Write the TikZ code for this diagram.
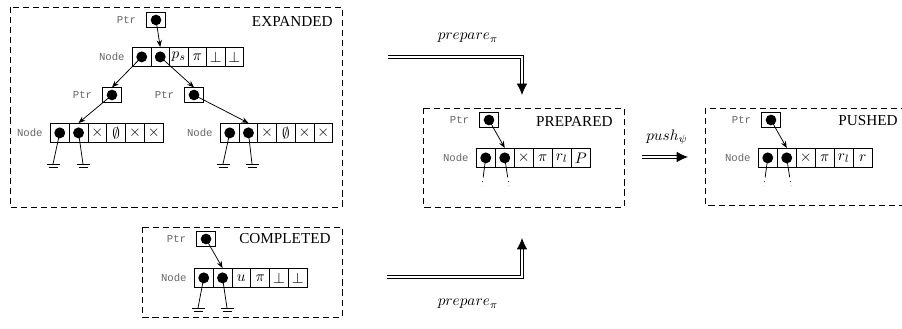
\documentclass[tikz,border=0pt]{standalone}
\usepackage{fontspec}
\setmainfont{Liberation Serif}
\setmonofont{Liberation Mono}
\usetikzlibrary{arrows.meta,positioning}

\tikzset{
  cell/.style={draw, anchor=north west, minimum width=12.3pt, minimum height=12.5pt, inner sep=0pt},
  ptrbox/.style={draw, minimum width=12.2pt, minimum height=9.5pt, inner sep=0pt},
  tag/.style={font=\ttfamily\scriptsize, text=black!60, inner sep=1pt},
  statebox/.style={dash pattern=on 4pt off 2.6pt},
  statename/.style={anchor=east, inner sep=0pt},
  link/.style={-{Stealth[length=4.5pt,width=3.5pt]}},
  tail/.style={dash pattern=on 13pt off 2.5pt on 0.5pt off 2.5pt on 0.5pt off 10pt},
  trans/.style={double, double distance=1.2pt, line width=0.55pt, -{Latex[length=7.5pt,width=7pt]}},
  gnd/.pic={\draw (-6.5,0) -- (6.5,0); \draw (-4.5,3) -- (4.5,3);}
}

\begin{document}
\begin{tikzpicture}[x=0.657pt, y=-0.657pt, line width=0.5pt]
    \clip (0,0) rectangle (902,329);

    % Expanded state
    \draw[statebox] (10,7) rectangle (342,207);
    \node[statename] (expanded) at (333,21) {EXPANDED};
    \node[ptrbox] (tp) at (156,20) {};
    \node[tag, left=5.5pt of tp] (tpl) {Ptr};
    \foreach \t [count=\i] in {{},{},$p_s$,$\pi$,$\bot$,$\bot$}
        \node[cell] (a\i) at ({132+18.5*(\i-1)},47) {\t};
    \node[tag, left=3.6pt of a1] (al) {Node};
    \node[ptrbox] (lp) at (112,95) {};
    \node[tag, left=5.5pt of lp] (lpl) {Ptr};
    \node[ptrbox] (rp) at (194,95) {};
    \node[tag, left=5.5pt of rp] (rpl) {Ptr};
    \foreach \t [count=\i] in {{},{},$\times$,$\emptyset$,$\times$,$\times$} {
        \node[cell] (b\i) at ({50+18.8*(\i-1)},123) {\t};
        \node[cell] (c\i) at ({220+18.7*(\i-1)},123) {\t};
    }
    \node[tag, left=3.6pt of b1] (bl) {Node};
    \node[tag, left=3.6pt of c1] (cl) {Node};
    \fill (tp.center) circle (3.5pt) (lp.center) circle (3.5pt) (rp.center) circle (3.5pt);
    \fill (a1.center) circle (3.6pt) (a2.center) circle (3.6pt);
    \fill (b1.center) circle (3.6pt) (b2.center) circle (3.6pt);
    \fill (c1.center) circle (3.6pt) (c2.center) circle (3.6pt);
    \draw[link] (tp.center) -- (a2.north);
    \draw[link] (a1.center) -- (lp.north);
    \draw[link] (a2.center) -- (rp.north);
    \draw[link] (lp.center) -- (b2.north);
    \draw[link] (rp.center) -- (c2.north);
    % grounded children
    \draw (b1.center) -- (53,164) pic {gnd};
    \draw (b2.center) -- (83,164) pic {gnd};
    \draw (c1.center) -- (223,164) pic {gnd};
    \draw (c2.center) -- (252,164) pic {gnd};

    % Completed state
    \draw[statebox] (142,227) rectangle (342,317);
    \node[statename] (completed) at (331,239) {COMPLETED};
    \node[ptrbox] (dp) at (206,239) {};
    \node[tag, left=5.5pt of dp] (dpl) {Ptr};
    \foreach \t [count=\i] in {{},{},$u$,$\pi$,$\bot$,$\bot$}
        \node[cell] (d\i) at ({194+18.8*(\i-1)},268) {\t};
    \node[tag, left=3.6pt of d1] (dl) {Node};
    \fill (dp.center) circle (3.5pt) (d1.center) circle (3.6pt) (d2.center) circle (3.6pt);
    \draw[link] (dp.center) -- (d2.north);
    \draw (d1.center) -- (198,308) pic {gnd};
    \draw (d2.center) -- (227,308) pic {gnd};

    % Prepared state
    \draw[statebox] (423,108) rectangle (624,207);
    \node[statename] (prepared) at (613,121) {PREPARED};
    \node[ptrbox] (pp) at (489,120) {};
    \node[tag, left=5.5pt of pp] (ppl) {Ptr};
    \foreach \t [count=\i] in {{},{},$\times$,$\pi$,$r_l$,$P$}
        \node[cell] (p\i) at ({476+19*(\i-1)},148) {\t};
    \node[tag, left=3.6pt of p1] (pl) {Node};
    \fill (pp.center) circle (3.5pt) (p1.center) circle (3.6pt) (p2.center) circle (3.6pt);
    \draw[link] (pp.center) -- (p2.north);
    \draw[tail] (p1.center) -- (482,186);
    \draw[tail] (p2.center) -- (509,186);

    % Pushed state
    \draw[statebox] (705,108) rectangle (915,205);
    \node[statename] (pushed) at (898,121) {PUSHED};
    \node[ptrbox] (sp) at (771,120) {};
    \node[tag, left=5.5pt of sp] (spl) {Ptr};
    \foreach \t [count=\i] in {{},{},$\times$,$\pi$,$r_l$,$r$}
        \node[cell] (s\i) at ({758+19*(\i-1)},148) {\t};
    \node[tag, left=3.6pt of s1] (sl) {Node};
    \fill (sp.center) circle (3.5pt) (s1.center) circle (3.6pt) (s2.center) circle (3.6pt);
    \draw[link] (sp.center) -- (s2.north);
    \draw[tail] (s1.center) -- (764,186);
    \draw[tail] (s2.center) -- (791,186);

    % Transitions
    \coordinate (prefrom) at (388,57);
    \coordinate (preto) at (522,95);
    \draw[trans] (prefrom) -| (preto);
    \node (prelbl) at (468,38) {$prepare_\pi$};
    \coordinate (compfrom) at (387,277);
    \coordinate (compto) at (522,238);
    \draw[trans] (compfrom) -| (compto);
    \node (complbl) at (468,304) {$prepare_\pi$};
    \coordinate (pushfrom) at (642,157);
    \coordinate (pushto) at (688,157);
    \draw[trans] (pushfrom) -- (pushto);
    \node (pushlbl) at (667,137) {$push_\psi$};
\end{tikzpicture}
\end{document}
